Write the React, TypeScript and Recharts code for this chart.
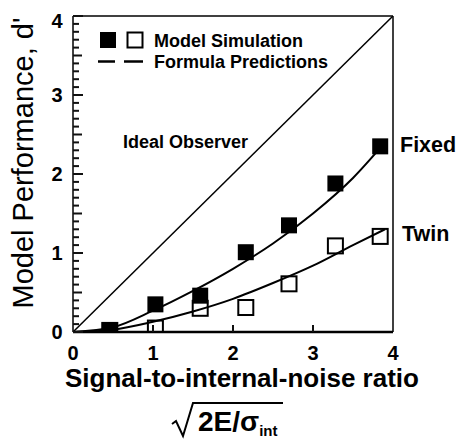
import { ComposedChart, Line, Scatter, XAxis, YAxis, ReferenceLine, Customized } from "recharts";

// simulated d' (squares)
const simSnr = [0.46, 1.03, 1.59, 2.16, 2.7, 3.28, 3.84];
const fixedSim = [0.02, 0.35, 0.46, 1.01, 1.35, 1.88, 2.35];
const twinSim = [0.02, 0.05, 0.3, 0.31, 0.61, 1.09, 1.21];

// formula predictions (solid curves)
const formulaSnr = [0, 0.5, 1, 1.5, 2, 2.5, 3, 3.5, 3.9];
const fixedFormula = [0, 0.06, 0.27, 0.52, 0.8, 1.12, 1.5, 1.95, 2.4];
const twinFormula = [0, 0.03, 0.13, 0.26, 0.42, 0.62, 0.84, 1.1, 1.3];

// ideal observer diagonal
const idealSnr = [0, 4];
const idealDprime = [0, 4];

const xTicks = [0, 1, 2, 3, 4];
const yTicks = Array.from({ length: 41 }, (_, i) => i / 10);

const FONT = "'Liberation Sans', Arial, Helvetica, sans-serif";

const fixedSimData = simSnr.map((x, i) => ({ x, y: fixedSim[i] }));
const twinSimData = simSnr.map((x, i) => ({ x, y: twinSim[i] }));
const fixedLineData = formulaSnr.map((x, i) => ({ x, y: fixedFormula[i] }));
const twinLineData = formulaSnr.map((x, i) => ({ x, y: twinFormula[i] }));
const idealData = idealSnr.map((x, i) => ({ x, y: idealDprime[i] }));

// tick marks as small filled rects pointing into the plot
function XTick(props: any) {
  const x = Number(props.x);
  const y = Number(props.y);
  const v = props.payload.value;
  return (
    <g>
      {v > 0 && v < 4 && <rect x={x - 1} y={y - 7} width={2} height={7} fill="#111" />}
      <text x={x} y={y + 28} textAnchor="middle" fontFamily={FONT} fontWeight="bold" fontSize={20} fill="#000">
        {v}
      </text>
    </g>
  );
}

function YTick(props: any) {
  const x = Number(props.x);
  const y = Number(props.y);
  const v = props.payload.value;
  const whole = Math.abs(v - Math.round(v)) < 1e-6;
  const half = Math.abs(v * 2 - Math.round(v * 2)) < 1e-6;
  return (
    <g>
      <rect x={x} y={y - 1} width={whole ? 10 : half ? 9 : 6} height={2} fill="#111" />
      {whole && (
        <text x={x - 16} y={y + (v === 4 ? 12 : 7)} textAnchor="middle" fontFamily={FONT} fontWeight="bold" fontSize={20} fill="#000">
          {v}
        </text>
      )}
    </g>
  );
}

const FilledSquare = (p: any) => <rect x={p.cx - 8} y={p.cy - 8} width={16} height={16} fill="#000" />;
const OpenSquare = (p: any) => (
  <rect x={p.cx - 7.5} y={p.cy - 7.5} width={15} height={15} fill="none" stroke="#000" strokeWidth={2} />
);

// titles, legend and curve labels, drawn in the chart's own svg
function Annotations() {
  return (
    <g fontFamily={FONT} fill="#000">
      <text transform="translate(33,163) rotate(-90)" textAnchor="middle" fontSize={29}>
        Model Performance, d'
      </text>
      <rect x={100} y={32} width={16} height={16} fill="#000" />
      <rect x={127.5} y={32.5} width={15} height={15} fill="none" stroke="#000" strokeWidth={2} />
      <text x={154} y={47} fontSize={18} fontWeight="bold">Model Simulation</text>
      <line x1={98} y1={61.5} x2={115} y2={61.5} stroke="#000" strokeWidth={2.5} />
      <line x1={124} y1={61.5} x2={143} y2={61.5} stroke="#000" strokeWidth={2.5} />
      <text x={154} y={68} fontSize={18} fontWeight="bold">Formula Predictions</text>
      <text x={123} y={148} fontSize={18} fontWeight="bold">Ideal Observer</text>
      <text x={400} y={152} fontSize={21.5} fontWeight="bold">Fixed</text>
      <text x={402} y={241} fontSize={21.5} fontWeight="bold">Twin</text>
      <text x={242} y={387} textAnchor="middle" fontSize={26} fontWeight="bold">
        Signal-to-internal-noise ratio
      </text>
      <path d="M172 424 L176 421 L183 436 L193 403 L283 403" fill="none" stroke="#000" strokeWidth={2} />
      <text x={198} y={431} fontSize={28} fontWeight="bold">
        2E/σ<tspan fontSize={15} dy={5}>int</tspan>
      </text>
    </g>
  );
}

export default function App() {
  return (
    <div style={{ position: "absolute", left: 0, top: 0, width: 459, height: 441, background: "#fff" }}>
      <ComposedChart width={459} height={441} margin={{ top: 16, right: 66, bottom: 79, left: 0 }}>
        <XAxis
          dataKey="x"
          type="number"
          domain={[0, 4]}
          ticks={xTicks}
          interval={0}
          height={30}
          tickSize={0}
          tickMargin={0}
          tick={<XTick />}
          tickLine={false}
          axisLine={{ stroke: "#000", strokeWidth: 2.5 }}
          allowDataOverflow
        />
        <YAxis
          type="number"
          domain={[0, 4]}
          ticks={yTicks}
          interval={0}
          width={73}
          tickSize={0}
          tickMargin={0}
          tick={<YTick />}
          tickLine={false}
          axisLine={{ stroke: "#000", strokeWidth: 1.5 }}
          allowDataOverflow
        />
        <ReferenceLine y={4} stroke="#000" strokeWidth={1.5} />
        <ReferenceLine x={4} stroke="#000" strokeWidth={1.5} />
        <Line data={idealData} dataKey="y" stroke="#000" strokeWidth={1.5} dot={false} activeDot={false} isAnimationActive={false} />
        <Line data={fixedLineData} dataKey="y" type="monotone" stroke="#000" strokeWidth={2} dot={false} activeDot={false} isAnimationActive={false} />
        <Line data={twinLineData} dataKey="y" type="monotone" stroke="#000" strokeWidth={2} dot={false} activeDot={false} isAnimationActive={false} />
        <Scatter data={fixedSimData} dataKey="y" shape={FilledSquare} isAnimationActive={false} />
        <Scatter data={twinSimData} dataKey="y" shape={OpenSquare} isAnimationActive={false} />
        <Customized component={Annotations} />
      </ComposedChart>
    </div>
  );
}
